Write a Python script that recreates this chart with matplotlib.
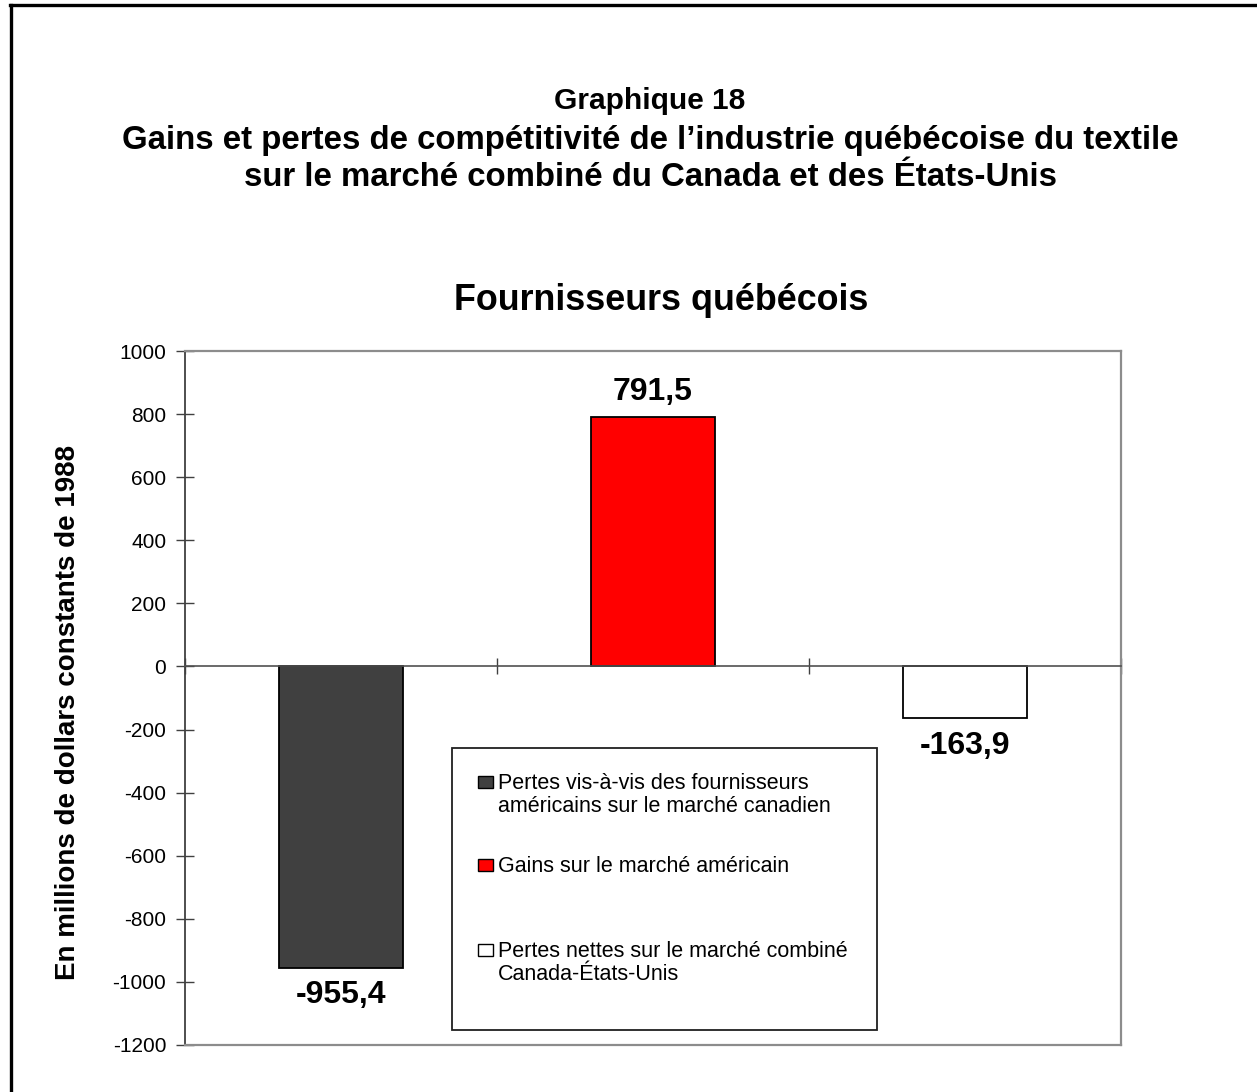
import matplotlib
matplotlib.use("Agg")
import matplotlib.pyplot as plt
from matplotlib.lines import Line2D
from matplotlib.patches import Rectangle

plt.rcParams['font.family'] = ['Liberation Sans', 'DejaVu Sans']

# ---- data ----
categories = [
    "Pertes vis-à-vis des fournisseurs\naméricains sur le marché canadien",
    "Gains sur le marché américain",
    "Pertes nettes sur le marché combiné\nCanada-États-Unis",
]
values = [-955.4, 791.5, -163.9]
value_labels = ["-955,4", "791,5", "-163,9"]
colors = ["#404040", "#FF0000", "#FFFFFF"]
yticks = [1000, 800, 600, 400, 200, 0, -200, -400, -600, -800, -1000, -1200]

W, H = 1257, 1092
fig = plt.figure(figsize=(W / 100, H / 100), dpi=100)


def fx(x):
    return x / W


def fy(y):
    return 1 - y / H


# outer frame (left & top only visible)
fig.add_artist(Line2D([fx(10.5), fx(10.5)], [0, fy(5)], color='black', lw=2.4))
fig.add_artist(Line2D([fx(9.5), 1], [fy(5), fy(5)], color='black', lw=2.4))

# titles
fig.text(fx(650), fy(101), "Graphique 18", ha='center', va='center',
         fontsize=21.5, fontweight='bold')
title_lines = ["Gains et pertes de compétitivité de l’industrie québécoise du textile",
               "sur le marché combiné du Canada et des États-Unis"]
for k, t in enumerate(title_lines):
    fig.text(fx(650), fy(141 + 36 * k), t, ha='center', va='center',
             fontsize=23.8, fontweight='bold')
fig.text(fx(661), fy(300), "Fournisseurs québécois", ha='center', va='center',
         fontsize=25.8, fontweight='bold')

# axes
ax = fig.add_axes([fx(185), fy(1045), (1121 - 185) / W, (1045 - 351) / H])
x = list(range(len(values)))
ax.bar(x, values, width=0.4, color=colors, edgecolor='black', linewidth=1.3, zorder=3)
ax.set_xlim(-0.5, 2.5)
ax.set_ylim(-1200, 1000)
ax.set_yticks(yticks)
ax.set_yticklabels([str(t) for t in yticks])
ax.tick_params(axis='y', direction='inout', length=13, width=1, labelsize=15,
               pad=7, color='#404040')
ax.set_xticks([-0.5, 0.5, 1.5, 2.5])
ax.set_xticklabels([])
ax.tick_params(axis='x', direction='inout', length=12, width=1, color='#404040')

ax.spines['bottom'].set_position(('data', 0))
ax.spines['bottom'].set_color('#505050')
ax.spines['bottom'].set_linewidth(1.2)
ax.spines['bottom'].set_zorder(4)
ax.spines['left'].set_color('#404040')
ax.spines['left'].set_linewidth(1.3)
for s in ['top', 'right']:
    ax.spines[s].set_color('#8c8c8c')
    ax.spines[s].set_linewidth(1.6)
ax.plot([0, 1], [0, 0], transform=ax.transAxes, color='#8c8c8c', lw=1.6,
        clip_on=False, zorder=5)

# value labels
for xi, v, lab in zip(x, values, value_labels):
    if v >= 0:
        ax.annotate(lab, (xi, v), xytext=(0, 7), textcoords='offset points',
                    ha='center', va='bottom', fontsize=23, fontweight='bold')
    else:
        ax.annotate(lab, (xi, v), xytext=(0, -9), textcoords='offset points',
                    ha='center', va='top', fontsize=23, fontweight='bold')

fig.text(fx(68), fy(712), "En millions de dollars constants de 1988", rotation=90,
         ha='center', va='center', fontsize=20, fontweight='bold')

# legend (drawn as a framed box with entries)
fig.add_artist(Rectangle((fx(452), fy(1030)), (877 - 452) / W, (1030 - 748) / H,
                         transform=fig.transFigure, facecolor='white',
                         edgecolor='#202020', lw=1.3, zorder=6))
line_centers = [782, 865, 950]
for lab, col, yc in zip(categories, colors, line_centers):
    fig.add_artist(Rectangle((fx(478), fy(yc + 6)), 15 / W, 12 / H,
                             transform=fig.transFigure, facecolor=col,
                             edgecolor='black', lw=1.0, zorder=7))
    for k, line in enumerate(lab.split("\n")):
        fig.text(fx(498), fy(yc + 7 + 23 * k), line, ha='left', va='baseline',
                 fontsize=15.5, zorder=8)

fig.savefig("out.png", dpi=100, facecolor='white')
